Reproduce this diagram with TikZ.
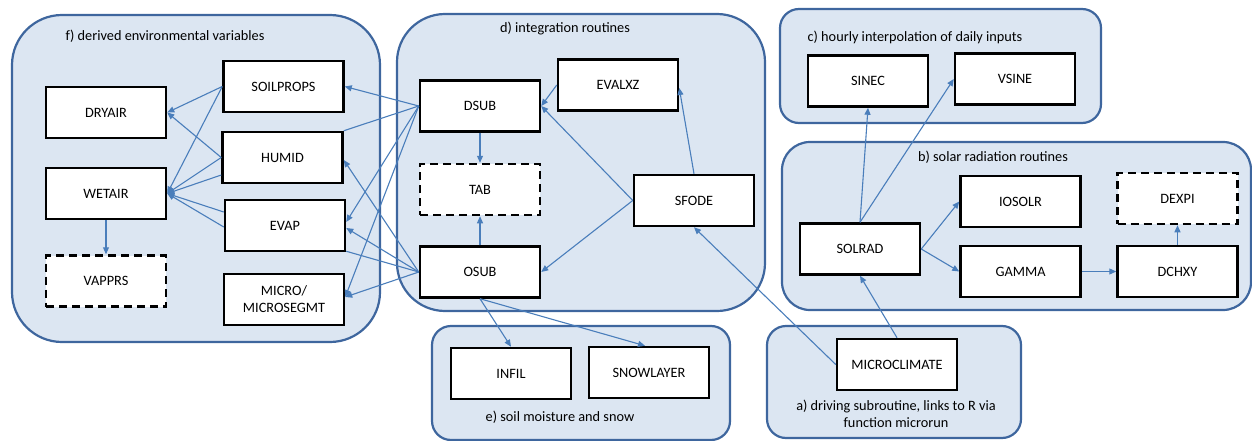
\documentclass[tikz,border=0pt]{standalone}
\usepackage{fontspec}
\setmainfont{Carlito}
\usetikzlibrary{arrows.meta}

\definecolor{groupfill}{RGB}{220,230,242}
\definecolor{groupline}{RGB}{62,102,158}
\definecolor{linkblue}{RGB}{74,126,187}

\tikzset{
  group/.style={draw=groupline, fill=groupfill, line width=2.2pt},
  routine/.style={draw=black, fill=white, line width=2.5pt,
    minimum width=120pt, minimum height=51pt, inner sep=1pt,
    align=center, font=\fontsize{14.3}{17}\selectfont},
  helper/.style={routine, dash pattern=on 8pt off 5pt},
  grouptitle/.style={font=\fontsize{14.3}{17}\selectfont, align=center, inner sep=0pt},
  link/.style={draw=linkblue, line width=1.1pt},
  calls/.style={link, -{Triangle[length=7pt,width=6pt]}}
}

\begin{document}
\begin{tikzpicture}[x=1pt,y=-1pt]
\useasboundingbox (0,0) rectangle (1252,441);
\clip (0,0) rectangle (1252,441);

% routine groups
\draw[group, rounded corners=50pt] (12,15) rectangle (380,342);
\draw[group, rounded corners=48pt] (397,14) rectangle (765,311);
\draw[group, rounded corners=19pt] (432,326) rectangle (730,440);
\draw[group, rounded corners=19pt] (780,9) rectangle (1101,123);
\draw[group, rounded corners=28pt] (782,142) rectangle (1251,310);
\draw[group, rounded corners=19pt] (767,326) rectangle (1021,438);

\node[grouptitle] (tf) at (165,36) {f) derived environmental variables};
\node[grouptitle] (td) at (565,29) {d) integration routines};
\node[grouptitle] (tc) at (915,37) {c) hourly interpolation of daily inputs};
\node[grouptitle] (tb) at (993,157) {b) solar radiation routines};
\node[grouptitle] (te) at (560,417) {e) soil moisture and snow};
\node[grouptitle] (ta) at (896,414) {a) driving subroutine, links to R via\\function microrun};

% f) derived environmental variables
\node[routine] (dryair)    at (106,112.5) {DRYAIR};
\node[routine] (wetair)    at (106,193.5) {WETAIR};
\node[helper]  (vapprs)    at (106,281)   {VAPPRS};
\node[routine] (soilprops) at (283.5,86.5) {SOILPROPS};
\node[routine] (humid)     at (282.5,157.5) {HUMID};
\node[routine] (evap)      at (285,225.5) {EVAP};
\node[routine] (micro)     at (284,299.5) {MICRO/\\MICROSEGMT};

% d) integration routines
\node[routine] (dsub)   at (480,106)   {DSUB};
\node[routine] (evalxz) at (618,85)    {EVALXZ};
\node[helper]  (tab)    at (480,189.5) {TAB};
\node[routine] (sfode)  at (694,200.5) {SFODE};
\node[routine] (osub)   at (480,272)   {OSUB};

% e) soil moisture and snow
\node[routine] (infil)     at (511,373.5) {INFIL};
\node[routine] (snowlayer) at (649,372.5) {SNOWLAYER};

% c) hourly interpolation
\node[routine] (sinec) at (868,81)  {SINEC};
\node[routine] (vsine) at (1015,79) {VSINE};

% b) solar radiation
\node[routine] (solrad) at (860,249)      {SOLRAD};
\node[routine] (iosolr) at (1020.5,201.5) {IOSOLR};
\node[routine] (gamma)  at (1020.5,271.5) {GAMMA};
\node[helper]  (dexpi)  at (1177.5,198.5) {DEXPI};
\node[routine] (dchxy)  at (1177.5,271.5) {DCHXY};

% a) driving subroutine
\node[routine] (microclimate) at (897,364.5) {MICROCLIMATE};

% calls out of the integration routines
\draw[calls] (dsub.west) -- (soilprops.east);
\draw[link]  (dsub.west) -- (humid.north east);
\draw[calls] (dsub.west) -- ([yshift=3.5pt]evap.east);
\draw[calls] (dsub.west) -- ([yshift=2.5pt]micro.east);
\draw[calls] (osub.west) -- ([yshift=-2.5pt]humid.east);
\draw[calls] (osub.west) -- ([yshift=-2.5pt]evap.east);
\draw[link]  (osub.west) -- ([yshift=1pt]evap.south east);
\draw[calls] (osub.west) -- ([yshift=2.5pt]micro.east);

% calls within derived variables
\draw[calls] (soilprops.west) -- (dryair.east);
\draw[calls] (soilprops.west) -- (wetair.east);
\draw[calls] (humid.west) -- (dryair.east);
\draw[calls] (humid.west) -- (wetair.east);
\draw[calls] ([yshift=-17.5pt]humid.west) -- (wetair.east);
\draw[calls] ([yshift=13.5pt]evap.west) -- (wetair.east);
\draw[calls] ([yshift=-1.5pt]evap.west) -- (wetair.east);
\draw[calls] (wetair.south) -- (vapprs.north);

% integration routines
\draw[calls] (evalxz.west) -- (dsub.east);
\draw[calls] (sfode.west) -- (dsub.east);
\draw[calls] (sfode.west) -- (osub.east);
\draw[calls] (sfode.north) -- ([yshift=-3pt]evalxz.east);
\draw[calls] (dsub.south) -- (tab.north);
\draw[calls] (osub.north) -- (tab.south);
\draw[calls] (osub.south) -- (infil.north);
\draw[calls] (osub.south) -- ([xshift=-4pt]snowlayer.north);

% driver and solar radiation
\draw[calls] (microclimate.west) -- (sfode.south);
\draw[calls] (microclimate.north) -- (solrad.south);
\draw[calls] (solrad.north) -- (sinec.south);
\draw[calls] (solrad.north) -- (vsine.west);
\draw[calls] (solrad.east) -- (iosolr.west);
\draw[calls] (solrad.east) -- (gamma.west);
\draw[calls] (gamma.east) -- (dchxy.west);
\draw[calls] (dchxy.north) -- (dexpi.south);
\end{tikzpicture}
\end{document}
